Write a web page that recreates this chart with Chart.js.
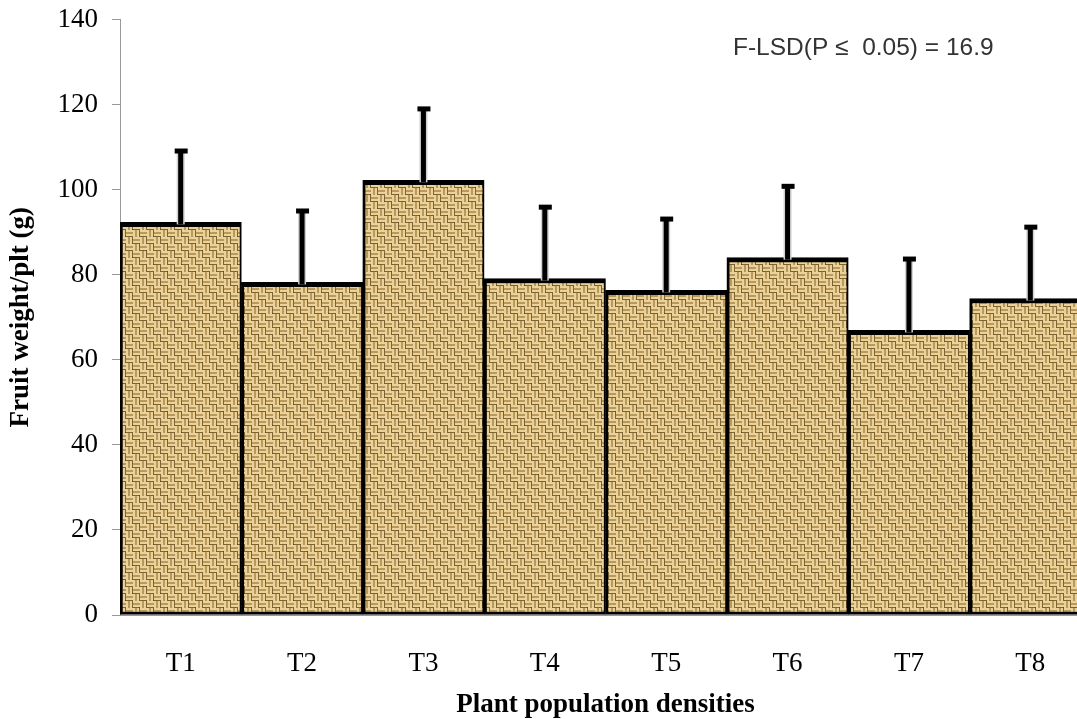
<!DOCTYPE html>
<html>
<head>
<meta charset="utf-8">
<script src="https://cdn.jsdelivr.net/npm/chart.js@4"></script>
<style>
  html, body { margin: 0; padding: 0; background: #fff; overflow: hidden; }
  #wrap { position: absolute; left: 0; top: -8px; width: 1095px; height: 727px; }
</style>
</head>
<body>
<div id="wrap"><canvas id="myChart"></canvas></div>
<script>
// datos
var categories = ['T1', 'T2', 'T3', 'T4', 'T5', 'T6', 'T7', 'T8'];
var fruitWeight = [92.3, 78.2, 102.2, 79.1, 76.3, 84.0, 66.9, 74.4];
var lsdError = [16.9, 16.9, 16.9, 16.9, 16.9, 16.9, 16.9, 16.9];
var yMin = 0, yMax = 140, yStep = 20;
var noteText = 'F-LSD(P \u2264  0.05) = 16.9';

var serif = '"Liberation Serif", "Times New Roman", serif';

// textura tipo arpillera
function burlap() {
    var c = document.createElement('canvas');
    c.width = 28; c.height = 28;
    var g = c.getContext('2d');
    g.fillStyle = '#7d6232';
    g.fillRect(0, 0, 28, 28);
    for (var i = 0; i < 4; i++) {
        for (var j = 0; j < 4; j++) {
            var x = i * 7, y = j * 7;
            if ((i + j) % 2 == 0) {
                g.fillStyle = '#ead39a';
                g.fillRect(x, y, 7, 2);
                g.fillRect(x, y + 4, 7, 2);
                g.fillStyle = '#b9985a';
                g.fillRect(x, y + 2, 7, 2);
            } else {
                g.fillStyle = '#ead39a';
                g.fillRect(x, y, 2, 7);
                g.fillRect(x + 4, y, 2, 7);
                g.fillStyle = '#b9985a';
                g.fillRect(x + 2, y, 2, 7);
            }
        }
    }
    g.fillStyle = '#5e4620';
    g.fillRect(6, 6, 1, 1);
    g.fillRect(20, 13, 1, 1);
    g.fillRect(13, 20, 1, 1);
    g.fillRect(27, 27, 1, 1);
    return g.createPattern(c, 'repeat');
}

var errorBars = {
    id: 'errorBars',
    afterDatasetsDraw: function(chart) {
        var ctx = chart.ctx;
        var y = chart.scales.y;
        var meta = chart.getDatasetMeta(0);
        ctx.save();
        meta.data.forEach(function(bar, i) {
            var top = y.getPixelForValue(fruitWeight[i] + lsdError[i]);
            var base = bar.y;
            ctx.lineCap = 'butt';
            ctx.strokeStyle = '#d0d0d0';
            ctx.lineWidth = 8;
            ctx.beginPath(); ctx.moveTo(bar.x, base + 2); ctx.lineTo(bar.x, top + 2); ctx.stroke();
            ctx.strokeStyle = '#000';
            ctx.lineWidth = 5;
            ctx.beginPath(); ctx.moveTo(bar.x, base + 2); ctx.lineTo(bar.x, top); ctx.stroke();
            ctx.fillStyle = '#000';
            ctx.fillRect(bar.x - 6, top - 2, 13, 5);
        });
        ctx.restore();
    }
};

var note = {
    id: 'note',
    afterDraw: function(chart) {
        var ctx = chart.ctx;
        ctx.save();
        ctx.fillStyle = '#333';
        ctx.font = '24.5px "Liberation Sans", Arial, sans-serif';
        ctx.textBaseline = 'middle';
        ctx.fillText(noteText, 733, 56);
        ctx.restore();
    }
};

var ctx = document.getElementById('myChart').getContext('2d');
var myChart = new Chart(ctx, {
    type: 'bar',
    data: {
        labels: categories,
        datasets: [{
            data: fruitWeight,
            backgroundColor: burlap(),
            borderColor: '#000',
            borderWidth: { top: 5, left: 3, right: 2, bottom: 3 },
            borderSkipped: false,
            categoryPercentage: 1,
            barPercentage: 1
        }]
    },
    options: {
        responsive: true,
        maintainAspectRatio: false,
        animation: false,
        layout: { padding: { top: 6, left: 0, right: 4, bottom: 0 } },
        plugins: { legend: { display: false }, tooltip: { enabled: false } },
        scales: {
            x: {
                grid: { display: false },
                border: { color: '#999', width: 1 },
                ticks: { color: '#000', padding: 27, font: { family: serif, size: 27, lineHeight: 1 } },
                title: {
                    display: true,
                    text: 'Plant population densities',
                    color: '#000',
                    padding: { top: 10, bottom: 0 },
                    font: { family: serif, size: 27, weight: 'bold', lineHeight: 1 }
                },
                afterFit: function(s) { s.height = 104; }
            },
            y: {
                min: yMin,
                max: yMax,
                ticks: { stepSize: yStep, color: '#000', padding: 14, font: { family: serif, size: 27, lineHeight: 1 } },
                grid: { drawOnChartArea: false, color: '#999', tickLength: 8 },
                border: { color: '#999', width: 1 },
                title: {
                    display: true,
                    text: 'Fruit weight/plt (g)',
                    color: '#000',
                    padding: { top: 8, bottom: 0 },
                    font: { family: serif, size: 27, weight: 'bold', lineHeight: 1 }
                },
                afterFit: function(s) { s.width = 120; }
            }
        }
    },
    plugins: [errorBars, note]
});
</script>
</body>
</html>
